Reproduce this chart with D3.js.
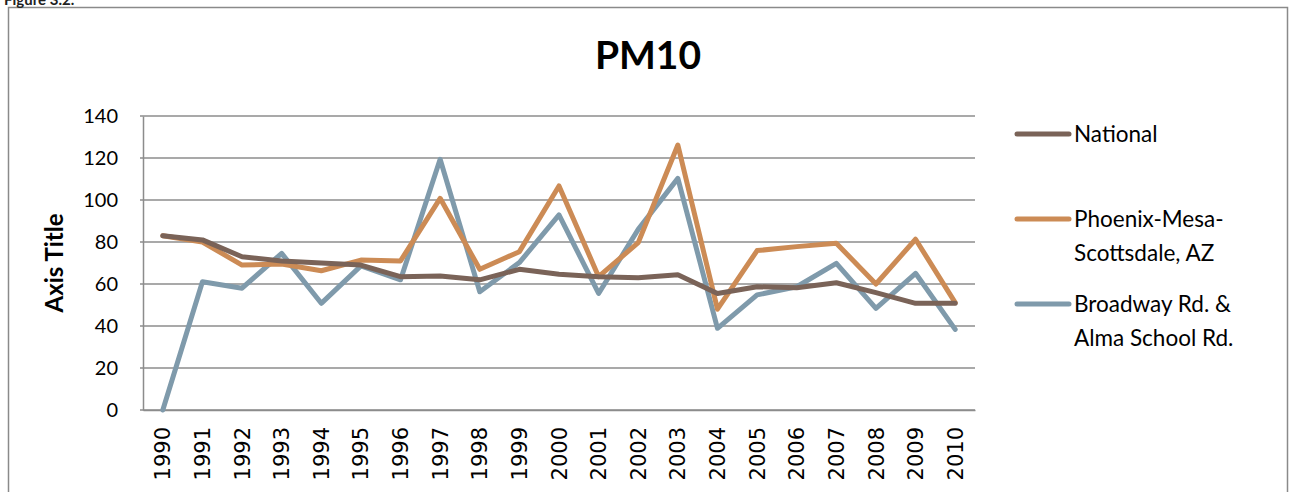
<!DOCTYPE html>
<html>
<head>
<meta charset="utf-8">
<script src="https://cdn.jsdelivr.net/npm/d3@7"></script>
<style>
  body { margin: 0; background: #fff; }
  svg { display: block; font-family: Lato, "Liberation Sans", sans-serif; }
  .x-axis text { font-family: "DejaVu Sans", sans-serif; }
</style>
</head>
<body>
<div id="root"></div>
<script>
const width = 1291;
const height = 492;

const years = d3.range(1990, 2011).map(String);
const national = [83, 81, 73, 71, 70, 69, 63.5, 63.8, 62, 67, 64.6, 63.5, 63, 64.4, 55.5, 58.7, 58.2, 60.6, 55.9, 50.8, 50.8];
const phoenix = [83, 80, 69, 69.5, 66.3, 71.4, 71, 100.8, 67, 75.4, 106.7, 63.5, 79.7, 126.2, 48, 75.9, 77.8, 79.4, 60, 81.3, 51.1];
const broadway = [0, 61.1, 58, 74.6, 50.8, 68.6, 62, 119.4, 56.3, 70.2, 92.9, 55.5, 86, 110.3, 38.9, 54.8, 58.7, 69.8, 48.4, 65.1, 38.4];
const yTicks = [0, 20, 40, 60, 80, 100, 120, 140];

const series = [
    { name: ["National"], values: national, color: "#7a6358" },
    { name: ["Phoenix-Mesa-", "Scottsdale, AZ"], values: phoenix, color: "#cc8b55" },
    { name: ["Broadway Rd. &", "Alma School Rd."], values: broadway, color: "#7f9aab" },
];

const plot = { left: 143, top: 116, right: 975, bottom: 410 };

const svg = d3.select("#root")
    .append("svg")
    .attr("width", width)
    .attr("height", height)
    .attr("viewBox", [0, 0, width, height]);

// outer frame
svg.append("rect")
    .attr("x", 8.5)
    .attr("y", 7.5)
    .attr("width", 1279)
    .attr("height", 500)
    .attr("fill", "none")
    .attr("stroke", "#8a8a8a")
    .attr("stroke-width", 1.5);

// figure caption, partly above the page edge as in the scan
svg.append("text")
    .attr("x", 4)
    .attr("y", 5)
    .attr("font-size", 15)
    .attr("font-weight", "bold")
    .attr("fill", "#222")
    .text("Figure 3.2.");

const x = d3.scaleBand()
    .domain(years)
    .range([plot.left, plot.right]);

const y = d3.scaleLinear()
    .domain([0, 140])
    .range([plot.bottom, plot.top]);

// gridlines
svg.append("g")
    .selectAll("line")
    .data(yTicks)
    .join("line")
    .attr("x1", plot.left - 3)
    .attr("x2", plot.right)
    .attr("y1", d => y(d))
    .attr("y2", d => y(d))
    .attr("stroke", "#8c8c8c")
    .attr("stroke-width", 1.5);

// y axis
const yAxis = svg.append("g")
    .attr("transform", `translate(${plot.left},0)`)
    .call(d3.axisLeft(y).tickValues(yTicks).tickSize(0).tickPadding(25));
yAxis.attr("font-family", null).attr("font-size", null);
yAxis.select(".domain").attr("stroke", "#8c8c8c").attr("stroke-width", 1.5);
yAxis.selectAll("text")
    .style("font-size", "20px")
    .attr("fill", "#000");

// x axis
const xAxis = svg.append("g")
    .attr("class", "x-axis")
    .attr("transform", `translate(0,${plot.bottom})`)
    .call(d3.axisBottom(x).tickSize(0));
xAxis.attr("font-family", null).attr("font-size", null);
xAxis.select(".domain").attr("stroke", "#8c8c8c").attr("stroke-width", 1.5);
xAxis.selectAll("text")
    .style("font-size", "21px")
    .style("font-weight", "normal")
    .attr("fill", "#000")
    .attr("transform", "rotate(-90)")
    .attr("text-anchor", "end")
    .attr("dy", "0.36em")
    .attr("x", -17)
    .attr("y", 0);

// lines
const line = d3.line()
    .x((d, i) => x(years[i]) + x.bandwidth() / 2)
    .y(d => y(d));

svg.append("g")
    .selectAll("path")
    .data([series[2], series[1], series[0]])
    .join("path")
    .attr("d", d => line(d.values))
    .attr("fill", "none")
    .attr("stroke", d => d.color)
    .attr("stroke-width", 5)
    .attr("stroke-linejoin", "round")
    .attr("stroke-linecap", "round");

// title
svg.append("text")
    .attr("x", 648)
    .attr("y", 69)
    .attr("text-anchor", "middle")
    .attr("font-size", 39)
    .attr("font-weight", "bold")
    .text("PM10");

// axis title
svg.append("text")
    .attr("transform", `translate(63,${(plot.top + plot.bottom) / 2}) rotate(-90)`)
    .attr("text-anchor", "middle")
    .attr("font-size", 24)
    .attr("font-weight", "bold")
    .text("Axis Title");

// legend
const legendY = [134, 219, 304];
const legend = svg.append("g")
    .selectAll("g")
    .data(series)
    .join("g")
    .attr("transform", (d, i) => `translate(1017,${legendY[i]})`);

legend.append("line")
    .attr("x1", 0)
    .attr("x2", 52)
    .attr("stroke", d => d.color)
    .attr("stroke-width", 5)
    .attr("stroke-linecap", "round");

legend.append("text")
    .attr("x", 57)
    .attr("font-size", 22.5)
    .selectAll("tspan")
    .data(d => d.name)
    .join("tspan")
    .attr("x", 57)
    .attr("y", (d, i) => i * 34)
    .attr("dy", "0.35em")
    .text(d => d);
</script>
</body>
</html>
